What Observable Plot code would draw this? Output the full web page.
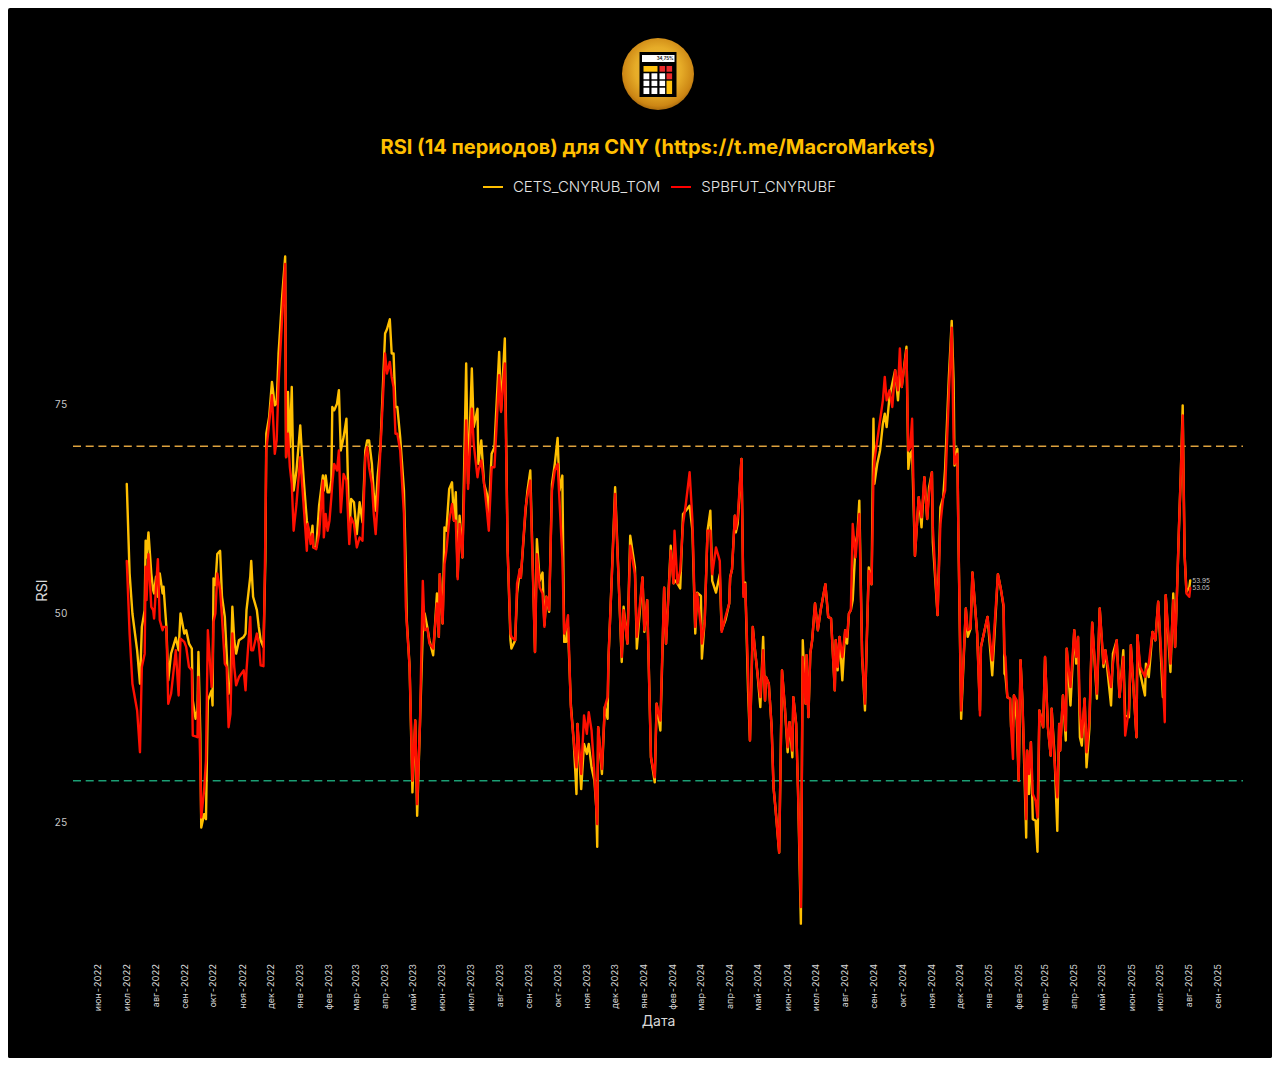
<!DOCTYPE html>
<html lang="ru">
<head>
<meta charset="utf-8">
<title>RSI (14 периодов) для CNY</title>
<script src="https://cdn.jsdelivr.net/npm/d3@7"></script>
<script src="https://cdn.jsdelivr.net/npm/@observablehq/plot@0.6"></script>
<style>
  html, body { margin: 0; padding: 0; background: #fff; width: 1280px; height: 1066px; overflow: hidden; }
  #panel { position: absolute; left: 8px; top: 8px; width: 1264px; height: 1050px; background: #000; border-radius: 2px; overflow: hidden; font-family: Inter, sans-serif; }
  #logo { position: absolute; left: 614px; top: 30px; width: 72px; height: 72px; }
  #title { position: absolute; left: 0; width: 1300px; top: 126.5px; text-align: center; color: #FFBF00; font-size: 20px; font-weight: 700; white-space: nowrap; }
  #legend { position: absolute; left: 0; width: 1303px; top: 169px; display: flex; justify-content: center; align-items: center; color: #e4e4e4; font-size: 15px; font-weight: 300; white-space: nowrap; }
  .swatch { display: inline-block; width: 20px; height: 2px; margin-right: 10px; }
  .name { margin-right: 11px; }
  #chart { position: absolute; left: 0; top: 202px; }
  #chart svg { display: block; }
</style>
</head>
<body>
<div id="panel">
  <svg id="logo" viewBox="0 0 72 72">
    <defs>
      <radialGradient id="gold" cx="50%" cy="45%" r="58%">
        <stop offset="0%" stop-color="#F0BE3E"/>
        <stop offset="55%" stop-color="#E6AC28"/>
        <stop offset="85%" stop-color="#CC8614"/>
        <stop offset="100%" stop-color="#9A5E0A"/>
      </radialGradient>
    </defs>
    <circle cx="36" cy="36" r="36" fill="url(#gold)"/>
    <rect x="17.5" y="14" width="37" height="45" fill="#000"/>
    <rect x="20" y="17" width="32.5" height="7" fill="#fff"/>
    <text x="51.5" y="22.4" text-anchor="end" font-size="4.4" font-weight="700" fill="#222">34,75%</text>
    <rect x="21.5" y="28" width="14" height="5.7" fill="#FFC20E"/>
    <rect x="37.5" y="28" width="5.6" height="5.7" fill="#ED2B2B"/>
    <rect x="44.5" y="28" width="5.6" height="5.7" fill="#ED2B2B"/>
    <rect x="21.5" y="35.3" width="5.8" height="6" fill="#fff"/>
    <rect x="29.5" y="35.3" width="5.8" height="6" fill="#fff"/>
    <rect x="37.5" y="35.3" width="5.6" height="6" fill="#fff"/>
    <rect x="44.5" y="35.3" width="5.6" height="6" fill="#ED2B2B"/>
    <rect x="21.5" y="42.7" width="5.8" height="5.4" fill="#fff"/>
    <rect x="29.5" y="42.7" width="5.8" height="5.4" fill="#fff"/>
    <rect x="37.5" y="42.7" width="5.6" height="5.4" fill="#fff"/>
    <rect x="44.5" y="42.7" width="5.6" height="13.3" fill="#FFC20E"/>
    <rect x="21.5" y="49.7" width="5.8" height="6.3" fill="#fff"/>
    <rect x="29.5" y="49.7" width="5.8" height="6.3" fill="#fff"/>
    <rect x="37.5" y="49.7" width="5.6" height="6.3" fill="#fff"/>
  </svg>
  <div id="title">RSI (14 периодов) для CNY (https://t.me/MacroMarkets)</div>
  <div id="legend">
    <span class="swatch" style="background:#FFBF00"></span><span class="name">CETS_CNYRUB_TOM</span>
    <span class="swatch" style="background:#FF0000"></span><span>SPBFUT_CNYRUBF</span>
  </div>
  <div id="chart"></div>
</div>
<script>
// Days since 2022-06-01 at which each reading was taken off the picture
const dayNumber = [
  30,33,36,41,44,46,49,50,51,53,
  56,58,59,61,63,65,68,69,72,74,
  77,82,85,87,91,93,96,99,100,103,
  105,106,108,109,112,114,116,120,121,122,
  124,126,129,131,134,136,138,140,142,144,
  146,149,154,156,157,161,162,164,168,170,
  172,175,177,178,181,184,187,189,191,195,
  198,199,201,203,205,207,210,214,216,218,
  221,222,225,227,228,231,234,238,239,241,
  243,245,247,248,250,253,255,257,260,263,
  266,268,271,274,277,280,283,285,287,290,
  292,294,296,299,304,306,309,311,313,315,
  317,320,324,326,327,330,333,336,338,341,
  344,346,349,351,355,359,361,362,365,367,
  369,372,375,377,379,381,383,386,390,392,
  396,398,402,403,406,409,412,414,417,420,
  425,427,431,434,437,438,442,444,447,448,
  453,455,458,463,465,468,471,473,475,478,
  481,484,487,489,492,494,496,498,501,504,
  507,508,512,515,518,520,523,526,528,529,
  530,534,537,540,541,544,548,555,557,561,
  564,569,571,577,579,582,586,590,592,596,
  600,602,607,610,611,614,617,620,623,627,
  630,633,635,639,640,643,646,649,651,655,
  659,661,665,669,670,672,675,676,678,682,
  684,686,689,691,694,696,699,702,705,707,
  708,711,714,716,718,722,725,728,731,733,
  736,737,740,742,745,747,750,751,753,755,
  757,760,763,766,771,774,777,781,782,784,
  786,789,792,794,796,798,800,803,805,807,
  810,813,817,820,822,823,826,829,832,834,
  836,839,842,845,848,850,852,857,859,861,
  863,866,870,873,876,879,881,884,885,890,
  893,896,898,902,905,907,908,911,912,915,
  920,922,925,927,932,935,936,943,948,954,
  957,960,961,962,964,967,968,970,971,974,
  976,978,980,984,985,987,989,991,994,996,
  998,1002,1004,1007,1010,1011,1014,1017,1019,1020,
  1023,1026,1027,1031,1035,1037,1039,1041,1043,1046,
  1048,1051,1054,1059,1062,1066,1068,1074,1076,1080,
  1083,1087,1089,1093,1095,1101,1102,1105,1110,1111,
  1114,1118,1121,1124,1129,1131,1132,1137,1140,1142,
  1144,1146,1148,1150,1152,1154,1157,1158
];
const cets = [
  65.5,54.8,50.0,45.6,41.6,48.4,50.4,58.7,56.7,59.7,
  54.8,52.8,52.4,54.4,52.0,54.8,52.4,53.2,48.4,42.0,
  45.2,47.1,45.6,50.0,47.6,48.0,46.4,45.8,39.6,37.4,
  38.4,45.4,35.6,24.4,26.0,25.4,39.6,40.8,39.0,54.2,
  53.4,57.1,57.5,52.0,49.6,45.2,40.4,41.6,50.8,46.8,
  45.2,46.8,47.2,47.6,50.4,54.4,56.3,52.0,50.4,48.4,
  46.8,46.0,56.3,71.5,73.5,77.7,74.9,75.1,81.1,88.2,
  92.7,68.7,76.5,69.9,77.1,64.7,67.1,72.5,68.7,65.5,
  61.1,60.5,58.7,60.5,57.9,57.9,62.9,66.5,64.7,66.5,
  64.5,64.5,65.9,74.7,74.3,75.1,76.7,69.5,71.1,73.3,
  59.5,63.7,63.3,59.5,63.3,60.9,69.5,70.7,70.7,67.9,
  64.3,62.3,66.3,69.9,83.5,84.0,85.2,81.1,81.1,74.7,
  74.7,71.1,64.7,55.5,49.2,43.6,28.6,37.2,25.8,36.8,
  48.0,50.0,48.2,46.8,45.0,52.4,47.2,54.7,48.8,60.3,
  59.9,64.9,65.7,61.1,64.5,54.4,61.7,56.7,79.9,65.5,
  79.3,72.3,74.5,67.9,70.7,65.5,64.3,61.9,69.1,69.9,
  81.3,74.3,82.9,57.5,46.8,45.8,46.8,52.4,55.3,54.3,
  62.3,64.7,67.1,45.4,58.9,53.9,54.9,48.6,52.0,50.2,
  65.5,67.9,71.0,64.7,66.5,46.6,46.6,48.4,39.2,34.8,
  28.4,36.8,29.0,34.4,33.2,34.4,31.6,30.0,26.8,22.1,
  36.4,30.8,38.8,37.4,44.8,53.1,65.1,44.2,50.8,46.4,
  59.3,55.5,45.8,54.3,47.8,51.6,32.8,29.8,39.2,36.0,
  53.1,46.4,58.1,53.6,54.0,53.6,53.0,61.9,62.3,62.9,
  59.9,47.6,52.5,52.1,44.6,49.2,59.9,62.3,53.9,52.5,
  54.7,48.0,49.2,51.2,54.3,55.3,61.7,59.7,60.7,68.5,
  52.4,53.7,40.8,34.8,48.4,46.0,42.8,38.8,47.2,39.6,
  42.4,41.6,36.4,29.2,26.8,21.4,43.2,38.8,33.4,37.0,
  32.8,40.0,36.8,28.8,12.9,46.8,39.2,45.0,37.6,45.2,
  46.8,51.2,48.0,50.4,53.5,49.6,49.4,40.8,46.8,43.2,
  47.2,42.0,48.0,46.4,50.0,50.4,51.6,58.3,59.5,63.5,
  44.8,38.4,55.5,53.5,73.3,65.5,67.9,69.5,72.7,73.9,
  72.3,75.9,77.5,79.1,75.5,78.7,77.1,81.9,67.3,69.1,
  69.5,56.9,63.9,60.3,66.3,61.3,65.1,66.9,58.5,49.8,
  62.7,63.9,67.3,78.3,85.0,77.9,67.7,69.7,60.3,37.4,
  50.6,47.2,48.2,54.9,47.6,38.4,46.0,49.6,42.6,54.7,
  53.0,50.8,42.8,42.6,40.0,39.8,36.4,36.4,40.2,37.2,
  30.0,44.4,39.6,23.2,33.6,28.4,34.6,25.4,25.2,21.5,
  38.4,36.4,44.8,36.4,33.0,38.6,33.2,24.0,36.8,33.6,
  40.2,34.8,45.8,39.0,48.0,44.0,47.2,35.2,34.2,39.8,
  31.6,36.2,48.9,39.8,50.6,43.6,45.6,39.0,45.2,46.8,
  40.0,45.6,37.8,37.6,46.2,35.2,47.4,42.8,40.2,44.0,
  42.4,47.8,46.8,51.4,40.0,41.2,52.2,43.0,52.4,46.0,
  52.7,60.1,66.7,74.9,57.1,52.6,53.1,53.95
];
const spbfut = [
  56.3,47.6,41.6,38.4,33.4,43.6,45.2,55.6,51.6,57.1,
  50.8,50.4,49.4,53.1,56.5,49.2,48.0,48.4,48.4,39.2,
  40.4,45.6,40.2,47.0,46.6,46.0,43.6,43.2,35.4,35.3,
  35.2,42.4,31.6,25.6,28.8,32.4,48.0,41.2,43.6,49.0,
  50.0,54.8,52.8,49.6,44.0,43.6,36.4,38.0,47.6,43.6,
  41.4,42.4,43.2,40.8,43.2,49.6,45.6,45.6,47.6,46.4,
  43.8,43.7,59.5,69.5,72.7,76.1,69.1,70.7,77.5,85.8,
  91.8,68.7,71.5,67.5,65.5,59.9,63.1,68.7,65.5,62.3,
  57.5,60.7,58.3,59.5,57.9,57.7,59.5,65.9,59.1,61.9,
  59.9,61.1,63.9,65.5,67.9,67.1,69.5,62.1,66.7,65.9,
  58.3,61.5,60.7,57.9,59.1,58.7,68.7,69.9,67.5,65.5,
  61.9,59.5,63.1,69.5,81.1,78.7,80.1,78.3,77.1,71.5,
  71.5,69.5,61.9,50.8,48.8,43.6,30.0,37.2,27.2,36.8,
  53.9,48.0,48.2,46.4,45.8,51.2,47.2,54.7,48.8,55.9,
  57.5,61.1,63.1,61.1,61.1,54.1,60.7,56.7,73.1,64.9,
  74.5,70.3,66.3,67.1,68.3,65.5,62.3,59.9,67.5,67.5,
  78.5,74.1,79.9,57.5,47.6,47.2,46.8,53.6,55.3,54.3,
  62.7,64.1,65.9,45.4,57.1,53.1,52.4,48.4,52.0,50.4,
  64.7,67.1,67.9,63.5,56.7,47.6,48.4,49.8,38.8,34.8,
  31.6,36.8,30.8,37.8,35.6,38.2,36.0,30.8,26.8,24.8,
  36.4,31.4,38.8,40.0,44.8,53.1,64.3,44.8,50.4,46.4,
  58.1,54.7,47.2,54.3,48.0,51.6,32.8,30.4,39.2,37.2,
  53.1,46.4,57.5,53.6,59.9,53.6,55.1,60.7,63.1,66.9,
  61.1,48.4,52.4,48.4,46.4,49.0,59.9,59.9,54.7,57.9,
  56.3,47.8,49.6,51.2,54.3,55.3,61.7,60.1,61.5,68.5,
  52.0,53.5,42.8,34.8,48.4,46.0,42.8,40.0,45.6,39.6,
  42.4,41.6,36.4,29.2,26.8,21.4,43.2,38.8,34.0,37.0,
  33.6,40.0,36.8,28.8,14.9,44.8,39.2,45.0,37.6,45.2,
  46.8,51.2,48.0,50.4,53.5,49.6,49.4,40.8,46.8,43.6,
  47.2,44.8,48.0,47.2,50.0,50.4,60.7,56.7,59.5,61.9,
  44.8,39.2,55.1,53.5,66.3,68.3,70.7,73.1,75.5,78.3,
  75.5,76.7,74.7,79.1,76.7,81.7,77.1,81.5,69.5,69.9,
  73.3,56.9,63.9,61.5,66.3,61.3,64.3,66.9,60.3,49.8,
  60.7,63.9,64.7,76.3,84.2,71.0,67.9,69.1,60.3,38.4,
  50.6,48.0,48.2,54.9,47.6,37.8,46.0,49.6,44.4,54.7,
  53.0,51.0,45.2,44.8,40.0,39.8,36.4,32.6,40.2,39.6,
  30.0,44.4,39.6,25.4,33.6,30.8,34.6,28.4,27.6,25.6,
  38.4,36.4,44.8,36.4,33.0,38.6,32.4,28.0,36.8,33.6,
  40.2,36.0,45.8,41.2,48.0,44.8,47.2,38.4,35.2,39.8,
  33.4,37.2,48.9,40.4,50.6,44.0,45.6,41.2,44.0,46.8,
  40.0,44.8,35.4,38.6,46.2,35.2,47.4,43.6,42.4,43.2,
  44.0,47.8,46.8,51.4,41.8,37.0,52.2,44.0,51.6,46.0,
  52.7,60.1,66.7,73.7,57.1,52.4,52.0,53.05
];
const monthNames = ["янв","фев","мар","апр","май","июн","июл","авг","сен","окт","ноя","дек"];
const yTicks = [25, 50, 75];
const overbought = 70;
const oversold = 30;
const seriesNames = ["CETS_CNYRUB_TOM", "SPBFUT_CNYRUBF"];

const startDate = new Date(Date.UTC(2022, 5, 1));
const rows = dayNumber.map((d, i) => ({
  date: d3.utcDay.offset(startDate, d),
  cets: cets[i],
  spbfut: spbfut[i]
}));
const last = rows[rows.length - 1];
const monthTicks = d3.utcMonth.range(startDate, new Date(Date.UTC(2025, 8, 2)));
const fmtMonth = d => `${monthNames[d.getUTCMonth()]}-${d.getUTCFullYear()}`;

const chart = Plot.plot({
  width: 1264,
  height: 848,
  marginLeft: 65,
  marginRight: 29,
  marginTop: 26.8,
  marginBottom: 110.6,
  style: { background: "#000", color: "#d8d8d8", fontFamily: "Inter, sans-serif" },
  x: { type: "utc", domain: [new Date(Date.UTC(2022, 4, 5, 12)), new Date(Date.UTC(2025, 8, 27, 12))] },
  y: { domain: [10, 95] },
  marks: [
    Plot.ruleY([overbought], { stroke: "#DDA23E", strokeWidth: 1.6, strokeDasharray: "8,4.7" }),
    Plot.ruleY([oversold], { stroke: "#1B9E74", strokeWidth: 1.6, strokeDasharray: "8,4.7" }),
    Plot.line(rows, { x: "date", y: "cets", stroke: "#FFBF00", strokeWidth: 2.4 }),
    Plot.line(rows, { x: "date", y: "spbfut", stroke: "#FF0F00", strokeWidth: 2.4 }),
    Plot.axisX({ ticks: monthTicks, tickFormat: fmtMonth, tickRotate: -90, tickSize: 0, tickPadding: 16, fontSize: 9, fill: "#d8d8d8", label: null }),
    Plot.axisY({ ticks: yTicks, tickSize: 0, tickPadding: 6, fontSize: 10, fill: "#c8c8c8", label: null }),
    Plot.text(["RSI"], { frameAnchor: "left", y: () => 51.4, dx: -31, rotate: -90, fontSize: 14.5, fill: "#d8d8d8" }),
    Plot.text(["Дата"], { frameAnchor: "bottom", dy: 78, fontSize: 14, fill: "#d8d8d8" }),
    Plot.text([last.cets.toFixed(2), last.spbfut.toFixed(2)], { x: () => last.date, y: (d, i) => i === 0 ? last.cets : last.spbfut, dx: 2, textAnchor: "start", fontSize: 6.5, fill: "#c8c8c8" })
  ]
});
document.getElementById("chart").appendChild(chart);
</script>
</body>
</html>
